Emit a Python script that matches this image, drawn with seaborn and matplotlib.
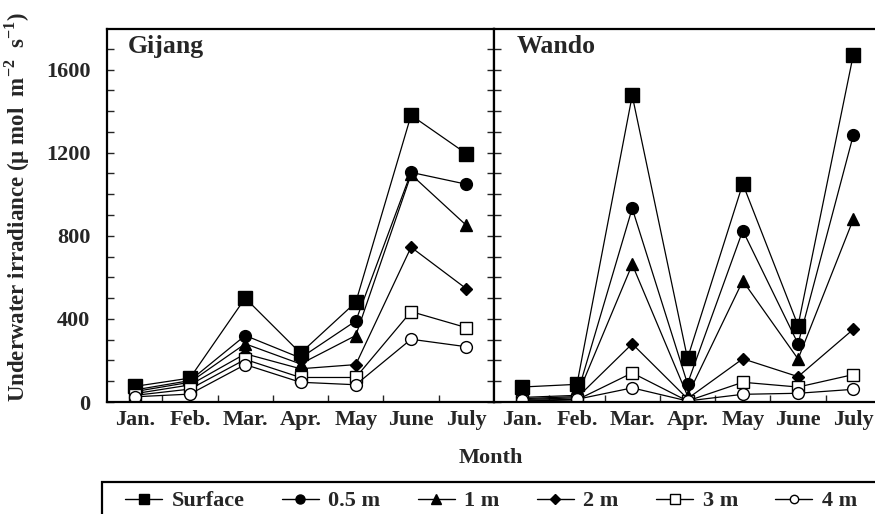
import numpy as np
import pandas as pd
import matplotlib
matplotlib.use("Agg")
import matplotlib.pyplot as plt
import seaborn as sns
from matplotlib.lines import Line2D
from matplotlib.patches import Rectangle
from matplotlib.ticker import MultipleLocator, FixedLocator

months = ["Jan.", "Feb.", "Mar.", "Apr.", "May", "June", "July"]
depths = ["Surface", "0.5 m", "1 m", "2 m", "3 m", "4 m"]

gijang_surface = [75, 115, 500, 235, 480, 1380, 1195]
gijang_05 = [58, 103, 320, 212, 390, 1105, 1048]
gijang_1 = [50, 95, 280, 183, 320, 1095, 850]
gijang_2 = [40, 82, 232, 160, 180, 745, 545]
gijang_3 = [32, 62, 205, 118, 118, 435, 358]
gijang_4 = [25, 38, 180, 95, 83, 302, 266]

wando_surface = [72, 85, 1475, 210, 1050, 368, 1672]
wando_05 = [22, 32, 932, 88, 825, 280, 1285]
wando_1 = [16, 26, 662, 30, 583, 207, 880]
wando_2 = [12, 20, 280, 16, 208, 122, 350]
wando_3 = [5, 10, 140, 5, 95, 72, 132]
wando_4 = [8, 13, 68, 5, 37, 42, 61]

sites = {"Gijang": [gijang_surface, gijang_05, gijang_1, gijang_2, gijang_3, gijang_4],
         "Wando": [wando_surface, wando_05, wando_1, wando_2, wando_3, wando_4]}

rows = []
for site, series in sites.items():
    for d, vals in zip(depths, series):
        for i, v in enumerate(vals):
            rows.append({"site": site, "depth": d, "m": i, "value": v})
df = pd.DataFrame(rows)

sns.set_theme(style="ticks")
plt.rcParams["font.family"] = ["Liberation Serif", "DejaVu Serif"]
plt.rcParams["font.weight"] = "bold"
plt.rcParams["mathtext.fontset"] = "custom"
plt.rcParams["mathtext.rm"] = "Liberation Serif:bold"
plt.rcParams["mathtext.bf"] = "Liberation Serif:bold"

styles = {
    "Surface": dict(marker="s", markerfacecolor="black", markersize=9.5),
    "0.5 m": dict(marker="o", markerfacecolor="black", markersize=8.5),
    "1 m": dict(marker="^", markerfacecolor="black", markersize=8.5),
    "2 m": dict(marker="D", markerfacecolor="black", markersize=6.3),
    "3 m": dict(marker="s", markerfacecolor="white", markersize=8.5),
    "4 m": dict(marker="o", markerfacecolor="white", markersize=8.5),
}
leg_sizes = {"Surface": 7.5, "0.5 m": 6.5, "1 m": 7, "2 m": 5, "3 m": 7, "4 m": 6}

W, H = 875, 514
fig = plt.figure(figsize=(W / 100, H / 100), dpi=100)
top = 29
bottom = 402
ax1 = fig.add_axes([107 / W, 1 - bottom / H, (494 - 107) / W, (bottom - top) / H])
ax2 = fig.add_axes([494 / W, 1 - bottom / H, (881 - 494) / W, (bottom - top) / H])

for ax, site in [(ax1, "Gijang"), (ax2, "Wando")]:
    sub = df[df.site == site]
    for d in depths:
        s = sub[sub.depth == d]
        sns.lineplot(data=s, x="m", y="value", ax=ax, color="black", lw=0.9,
                     markeredgecolor="black", markeredgewidth=1.0, legend=False,
                     **styles[d])
    ax.set_xlim(-0.5, 6.5)
    ax.set_ylim(0, 1795)
    ax.set_xlabel("")
    ax.set_ylabel("")
    ax.set_xticks(range(7))
    ax.set_xticklabels(months, fontsize=16, fontweight="bold")
    ax.xaxis.set_minor_locator(FixedLocator([0.5, 1.5, 2.5, 3.5, 4.5, 5.5]))
    ax.tick_params(axis="x", which="major", length=0, pad=6)
    ax.tick_params(axis="x", which="minor", direction="in", length=5, width=1, top=False)
    ax.yaxis.set_major_locator(MultipleLocator(400))
    ax.yaxis.set_minor_locator(MultipleLocator(100))
    ax.tick_params(axis="y", which="both", direction="in", length=5, width=1)
    for sp in ax.spines.values():
        sp.set_linewidth(1.6)
        sp.set_color("black")

fig.text(128 / W, 1 - 53 / H, "Gijang", ha="left", va="baseline", fontsize=18.5, fontweight="bold")
fig.text(517 / W, 1 - 53 / H, "Wando", ha="left", va="baseline", fontsize=18.5, fontweight="bold")

ax1.set_yticks([0, 400, 800, 1200, 1600])
ax1.set_yticklabels(["0", "400", "800", "1200", "1600"], fontsize=16, fontweight="bold")
ax1.tick_params(axis="y", which="both", right=True, pad=12)
ax2.tick_params(axis="y", which="both", labelleft=False, left=True)
ax2.spines["right"].set_visible(False)

fig.text(491 / W, 1 - 458 / H, "Month", ha="center", va="center", fontsize=16, fontweight="bold")
fig.text(17 / W, 1 - 207 / H, "Underwater irradiance (\u03bc mol  m$^{-2}$  s$^{-1}$)",
         ha="center", va="center", rotation=90, fontsize=16.5, fontweight="bold")

# legend frame (extends past the bottom/right edges as in the reference)
fig.patches.append(Rectangle((102 / W, -0.05), (890 - 102) / W, 1 - 482 / H + 0.05,
                             transform=fig.transFigure, fill=False, edgecolor="black",
                             linewidth=1.6, figure=fig))

handles = [Line2D([], [], color="black", lw=1.0, markeredgecolor="black",
                  markeredgewidth=1.0, **{**styles[d], "markersize": leg_sizes[d]})
           for d in depths]
leg = fig.legend(handles, depths, loc="center left", ncol=6,
                 bbox_to_anchor=(125 / W, 1 - 501 / H),
                 frameon=False, borderaxespad=0, borderpad=0,
                 prop={"family": "Liberation Serif", "weight": "bold", "size": 16},
                 handlelength=1.67, handletextpad=0.43, columnspacing=1.67)

fig.savefig("out.png", dpi=100)
